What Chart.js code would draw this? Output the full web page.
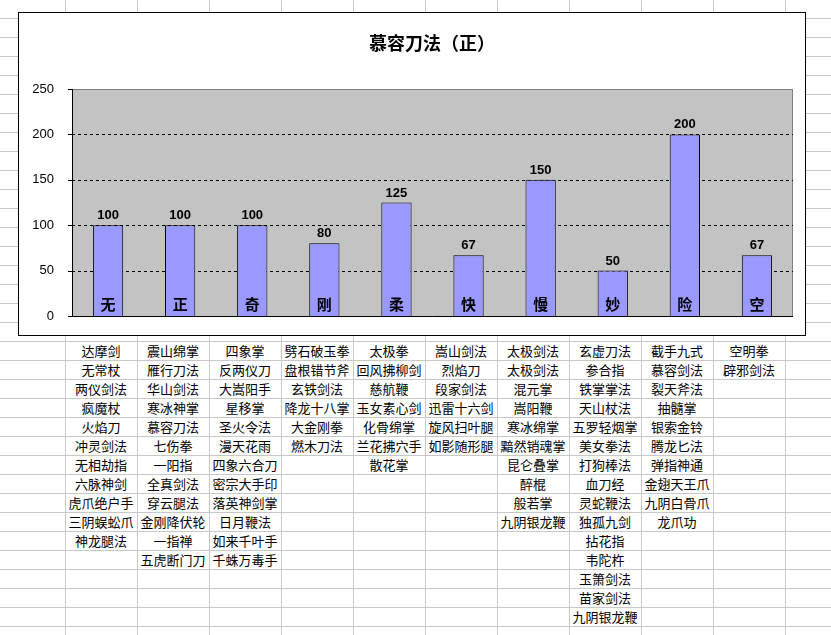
<!DOCTYPE html>
<html><head><meta charset="utf-8">
<script src="https://cdn.jsdelivr.net/npm/chart.js@4"></script>
<style>
body{margin:0;width:831px;height:635px;overflow:hidden;background-color:#fff;
background-image:linear-gradient(#c8c8c8 1px,transparent 1px),linear-gradient(90deg,#c8c8c8 1px,transparent 1px);
background-size:72px 19px;background-position:65px 18px;font-family:"Noto Sans CJK SC",sans-serif;position:relative}
#box{position:absolute;left:18px;top:12px;width:786px;height:322px;background:#fff;border:1px solid #000}
.cell{position:absolute;width:72px;height:19px;line-height:19px;text-align:center;font-size:13px;color:#000;white-space:nowrap}
</style></head><body>
<div id="box"><canvas id="c" width="786" height="322"></canvas></div>
<div id="tbl"></div>
<script>
const categories = ['无', '正', '奇', '刚', '柔', '快', '慢', '妙', '险', '空'];
const values = [100, 100, 100, 80, 125, 67, 150, 50, 200, 67];
const yTicks = [0, 50, 100, 150, 200, 250];
const chartTitle = '慕容刀法（正）';
const skillColumns = [
  ['达摩剑','无常杖','两仪剑法','疯魔杖','火焰刀','冲灵剑法','无相劫指','六脉神剑','虎爪绝户手','三阴蜈蚣爪','神龙腿法'],
  ['震山绵掌','雁行刀法','华山剑法','寒冰神掌','慕容刀法','七伤拳','一阳指','全真剑法','穿云腿法','金刚降伏轮','一指禅','五虎断门刀'],
  ['四象掌','反两仪刀','大嵩阳手','星移掌','圣火令法','漫天花雨','四象六合刀','密宗大手印','落英神剑掌','日月鞭法','如来千叶手','千蛛万毒手'],
  ['劈石破玉拳','盘根错节斧','玄铁剑法','降龙十八掌','大金刚拳','燃木刀法'],
  ['太极拳','回风拂柳剑','慈航鞭','玉女素心剑','化骨绵掌','兰花拂穴手','散花掌'],
  ['嵩山剑法','烈焰刀','段家剑法','迅雷十六剑','旋风扫叶腿','如影随形腿'],
  ['太极剑法','太极剑法','混元掌','嵩阳鞭','寒冰绵掌','黯然销魂掌','昆仑叠掌','醉棍','般若掌','九阴银龙鞭'],
  ['玄虚刀法','参合指','铁掌掌法','天山杖法','五罗轻烟掌','美女拳法','打狗棒法','血刀经','灵蛇鞭法','独孤九剑','拈花指','韦陀杵','玉箫剑法','苗家剑法','九阴银龙鞭'],
  ['截手九式','慕容剑法','裂天斧法','抽髓掌','银索金铃','腾龙匕法','弹指神通','金翅天王爪','九阴白骨爪','龙爪功'],
  ['空明拳','辟邪剑法']
];

const tbl = document.getElementById('tbl');
skillColumns.forEach((col, ci) => {
  col.forEach((name, ri) => {
    const d = document.createElement('div');
    d.className = 'cell';
    d.style.left = (65 + ci * 72) + 'px';
    d.style.top = (341 + ri * 19) + 'px';
    d.textContent = name;
    tbl.appendChild(d);
  });
});

// grey plot area, dashed gridlines
const plotBg = {
  id: 'plotBg',
  beforeDatasetsDraw(chart) {
    const a = chart.chartArea, ctx = chart.ctx, y = chart.scales.y;
    ctx.save();
    ctx.fillStyle = '#c3c3c3';
    ctx.fillRect(a.left, a.top, a.right - a.left, a.bottom - a.top);
    ctx.strokeStyle = '#808080';
    ctx.lineWidth = 1;
    ctx.strokeRect(a.left + 0.5, a.top + 0.5, a.right - a.left - 1, a.bottom - a.top);
    ctx.strokeStyle = '#000';
    ctx.setLineDash([3, 3]);
    yTicks.slice(1, -1).forEach((v) => {
      const py = Math.round(y.getPixelForValue(v)) + 0.5;
      ctx.beginPath();
      ctx.moveTo(a.left, py);
      ctx.lineTo(a.right, py);
      ctx.stroke();
    });
    ctx.setLineDash([]);
    ctx.beginPath();
    ctx.moveTo(a.left + 0.5, a.top);
    ctx.lineTo(a.left + 0.5, a.bottom + 0.5);
    ctx.lineTo(a.right, a.bottom + 0.5);
    ctx.stroke();
    yTicks.forEach((v) => {
      const py = Math.round(y.getPixelForValue(v)) + 0.5;
      ctx.beginPath();
      ctx.moveTo(a.left - 4, py);
      ctx.lineTo(a.left, py);
      ctx.stroke();
    });
    ctx.restore();
  }
};

const barText = {
  id: 'barText',
  afterDatasetsDraw(chart) {
    const { ctx } = chart;
    const meta = chart.getDatasetMeta(0);
    const yb = chart.scales.y.getPixelForValue(0);
    ctx.save();
    ctx.fillStyle = '#000';
    ctx.textAlign = 'center';
    meta.data.forEach((bar, i) => {
      ctx.font = 'bold 13px "Liberation Sans", sans-serif';
      ctx.textBaseline = 'bottom';
      ctx.fillText(values[i], bar.x, bar.y - 3);
      ctx.font = 'bold 15px "Noto Sans CJK SC", sans-serif';
      ctx.textBaseline = 'middle';
      ctx.fillText(categories[i], bar.x, yb - 12);
    });
    ctx.font = 'bold 18px "Noto Sans CJK SC", sans-serif';
    ctx.textBaseline = 'middle';
    ctx.fillText(chartTitle, chart.width / 2 + 20, 30);
    ctx.restore();
  }
};

new Chart(document.getElementById('c'), {
  type: 'bar',
  data: {
    labels: categories,
    datasets: [{
      data: values,
      backgroundColor: '#9999ff',
      borderColor: '#000',
      borderWidth: 1,
      barPercentage: 0.42,
      categoryPercentage: 1
    }]
  },
  options: {
    responsive: false,
    animation: false,
    devicePixelRatio: 1,
    layout: { padding: { top: 76, right: 12, bottom: 11, left: 0 } },
    plugins: { legend: { display: false }, tooltip: { enabled: false } },
    scales: {
      x: {
        grid: { display: false },
        border: { display: false },
        ticks: { display: false }
      },
      y: {
        min: 0, max: 250,
        afterBuildTicks(axis) { axis.ticks = yTicks.map(v => ({ value: v })); },
        afterFit(axis) { axis.width = 53; },
        border: { display: false },
        grid: { display: false },
        ticks: { color: '#000', padding: 10, font: { family: 'Liberation Sans', size: 13 } }
      }
    }
  },
  plugins: [plotBg, barText]
});
</script>
</body></html>
